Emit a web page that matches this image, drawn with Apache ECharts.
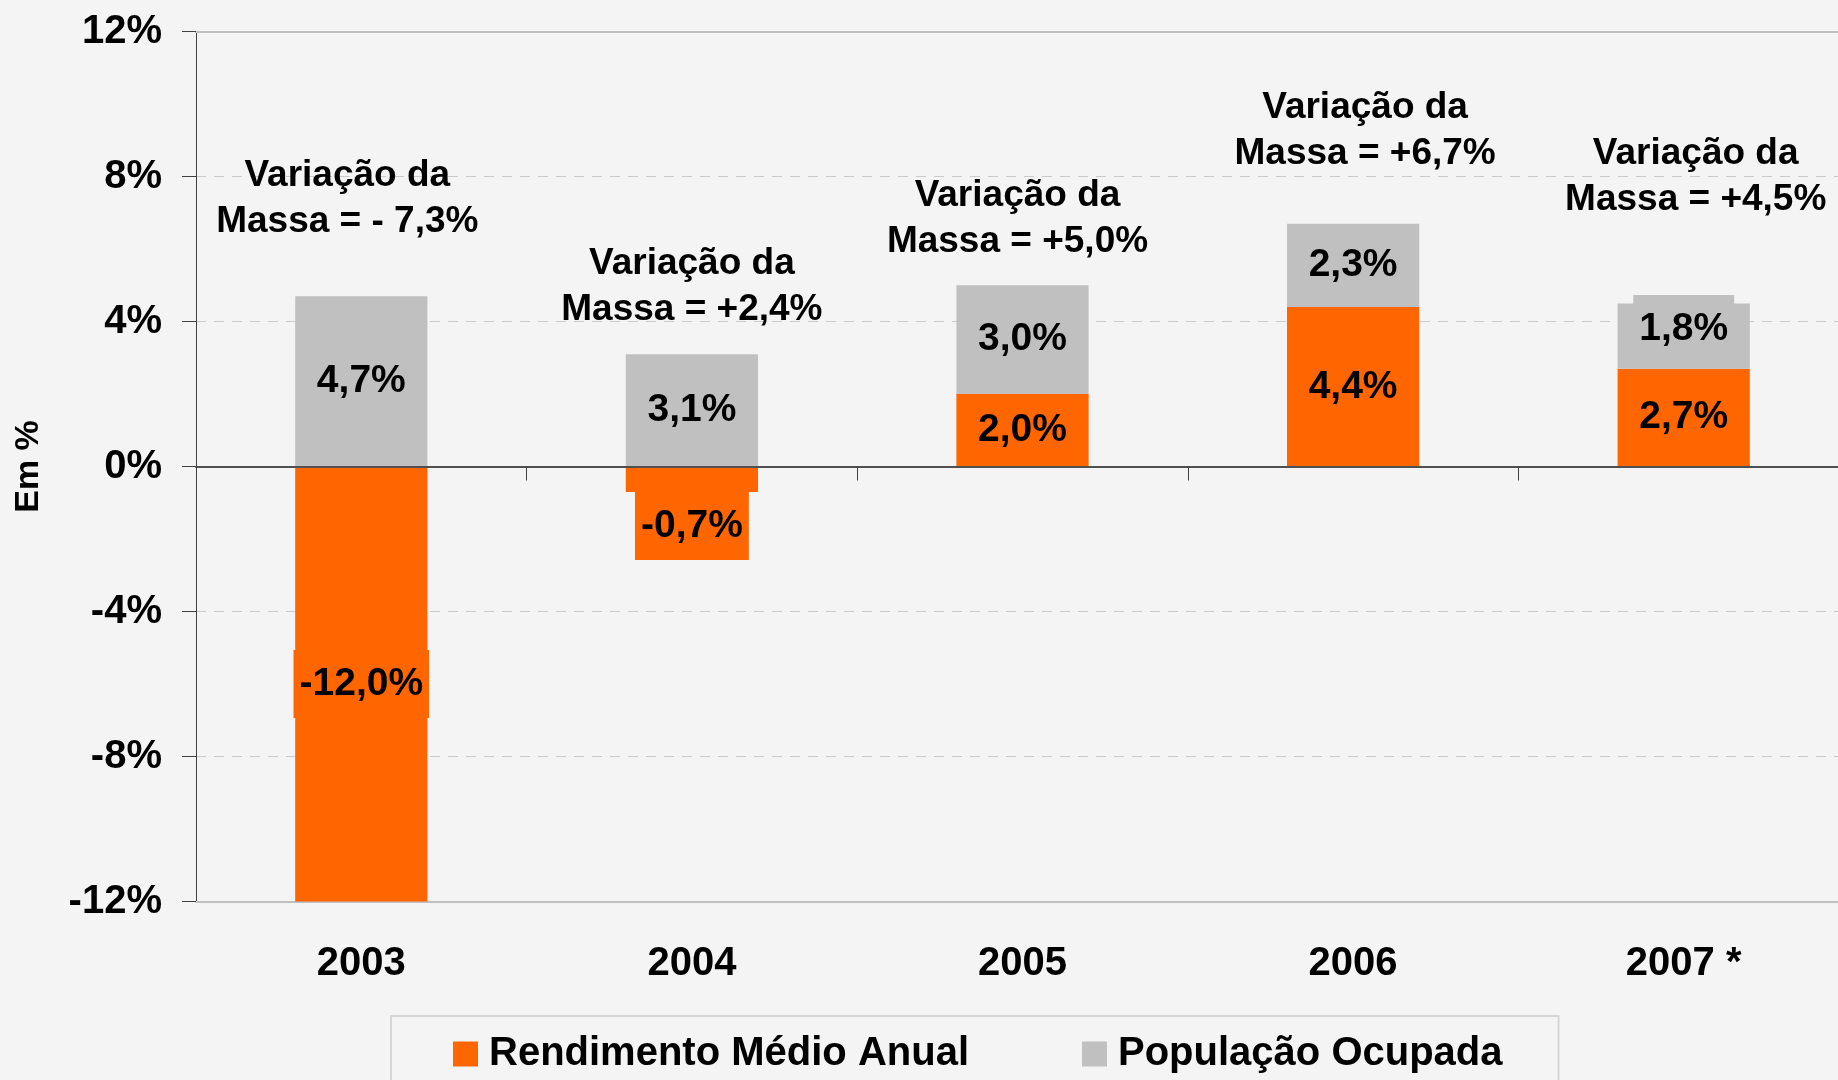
<!DOCTYPE html>
<html>
<head>
<meta charset="utf-8">
<script src="https://cdn.jsdelivr.net/npm/echarts@6/dist/echarts.min.js"></script>
<style>
  html, body { margin: 0; padding: 0; background: #f4f4f4; }
  #chart { width: 1838px; height: 1080px; }
</style>
</head>
<body>
<div id="chart"></div>
<script>
// Anos da série
const years = ['2003', '2004', '2005', '2006', '2007 *'];
// Variação do rendimento médio anual (%)
const rendimento = [-12.0, -0.7, 2.0, 4.4, 2.7];
// Variação da população ocupada (%)
const populacao = [4.7, 3.1, 3.0, 2.3, 1.8];
// Variação da massa de rendimentos (%)
const massa = [-7.3, 2.4, 5.0, 6.7, 4.5];
// Escala do eixo vertical (%)
const yMin = -12, yMax = 12, yStep = 4;

const FONT = '"Liberation Sans", Arial, Helvetica, sans-serif';
const ORANGE = '#ff6600';
const GREY = '#c0c0c0';

const pct = v => v.toFixed(1).replace('.', ',') + '%';
const signed = v => (v < 0 ? '- ' + pct(-v) : '+' + pct(v));

// Where each "Variação da Massa" note sits: height on the value axis and a small horizontal nudge (px)
const notePlace = [
  { y: 7.38, dx: -14 },
  { y: 4.97, dx: 0 },
  { y: 6.83, dx: -5 },
  { y: 9.25, dx: 12 },
  { y: 7.98, dx: 12 }
];

const barLabelBase = {
  show: true,
  color: '#000',
  fontFamily: FONT,
  fontWeight: 'bold',
  fontSize: 39,
  lineHeight: 40,
  padding: [14, 6],
  textBorderWidth: 0
};

const chart = echarts.init(document.getElementById('chart'), null, { renderer: 'canvas' });

chart.setOption({
  backgroundColor: '#f4f4f4',
  animation: false,
  textStyle: { fontFamily: FONT },
  grid: {
    left: 196, right: -11, top: 31.5, bottom: 178.5,
    outerBoundsMode: 'none'
  },
  legend: {
    data: ['Rendimento Médio Anual', 'População Ocupada'],
    left: 391, top: 1016,
    orient: 'horizontal',
    padding: [18, 56, 40, 62],
    borderColor: '#d6d6d6',
    borderWidth: 2,
    backgroundColor: '#f4f4f4',
    itemWidth: 25, itemHeight: 25,
    itemGap: 113,
    icon: 'rect',
    selectedMode: false,
    textStyle: {
      fontFamily: FONT, fontWeight: 'bold', fontSize: 40, color: '#000',
      padding: [0, 0, 0, 6]
    }
  },
  xAxis: [
    {
      // zero line with category boundary ticks
      type: 'category', data: years, position: 'bottom', z: 3,
      axisLine: { show: true, onZero: true, lineStyle: { color: '#505050', width: 2 } },
      axisTick: { show: true, length: 14, inside: false, lineStyle: { color: '#404040', width: 1 } },
      axisLabel: { show: false },
      splitLine: { show: false }
    },
    {
      // bottom edge of the plot with the year labels
      type: 'category', data: years, position: 'bottom',
      axisLine: { show: true, onZero: false, lineStyle: { color: '#c0c0c0', width: 2 } },
      axisTick: { show: false },
      axisLabel: {
        show: true, margin: 42, color: '#000',
        fontFamily: FONT, fontWeight: 'bold', fontSize: 40
      },
      splitLine: { show: false }
    },
    {
      // top edge of the plot
      type: 'category', data: years, position: 'top',
      axisLine: { show: true, onZero: false, lineStyle: { color: '#c0c0c0', width: 2 } },
      axisTick: { show: false },
      axisLabel: { show: false },
      splitLine: { show: false }
    }
  ],
  yAxis: {
    type: 'value', min: yMin, max: yMax, interval: yStep,
    name: 'Em %', nameLocation: 'middle', nameRotate: 90, nameGap: 150,
    nameTextStyle: { fontFamily: FONT, fontWeight: 'bold', fontSize: 34, color: '#000' },
    axisLine: { show: true, lineStyle: { color: '#404040', width: 1 } },
    axisTick: { show: true, length: 14, inside: false, lineStyle: { color: '#404040', width: 1 } },
    axisLabel: {
      show: true, margin: 34, color: '#000',
      fontFamily: FONT, fontWeight: 'bold', fontSize: 40,
      formatter: v => v + '%'
    },
    splitLine: { show: true, lineStyle: { color: '#cacaca', width: 1, type: [10, 8] } }
  },
  series: [
    {
      name: 'Rendimento Médio Anual',
      type: 'bar', stack: 'massa', barWidth: '40%', z: 2,
      itemStyle: { color: ORANGE },
      data: rendimento.map(v => ({
        value: v,
        label: Math.abs(v) < 1.5
          ? { position: 'bottom', distance: 0 }
          : { position: 'inside' }
      })),
      label: Object.assign({}, barLabelBase, {
        backgroundColor: ORANGE,
        formatter: p => pct(p.value)
      })
    },
    {
      name: 'População Ocupada',
      type: 'bar', stack: 'massa', barWidth: '40%', z: 2,
      itemStyle: { color: GREY },
      data: populacao.map(v => ({
        value: v,
        label: v < 2 ? { position: 'inside', offset: [0, -7] } : { position: 'inside' }
      })),
      label: Object.assign({}, barLabelBase, {
        backgroundColor: GREY,
        formatter: p => pct(p.value)
      })
    },
    {
      // "Variação da Massa" notes above each year
      name: 'nota',
      type: 'scatter', symbolSize: 1, z: 4,
      itemStyle: { color: '#f4f4f4', opacity: 1 },
      silent: true,
      data: massa.map((v, i) => ({
        value: [i, notePlace[i].y],
        label: { offset: [notePlace[i].dx, 0] }
      })),
      label: {
        show: true, position: 'inside', align: 'center', verticalAlign: 'middle',
        color: '#000', opacity: 1, textBorderWidth: 0, textBorderColor: 'transparent',
        fontFamily: FONT, fontWeight: 'bold', fontSize: 37, lineHeight: 46,
        formatter: p => 'Variação da\nMassa = ' + signed(massa[p.dataIndex])
      }
    }
  ]
});
</script>
</body>
</html>
